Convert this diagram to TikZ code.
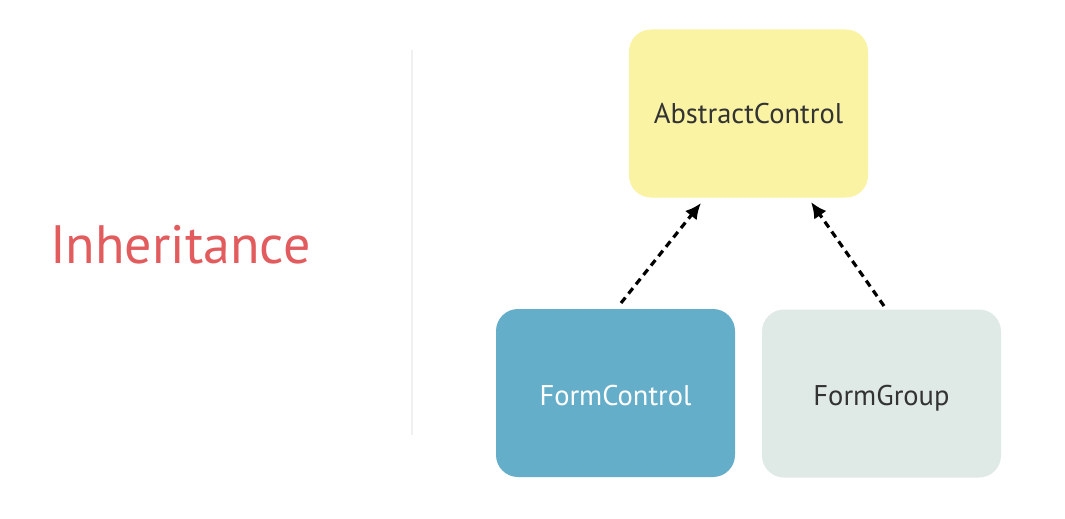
\documentclass[tikz,border=0pt]{standalone}
\usepackage{fontspec}
\setmainfont{PT Sans}
\usetikzlibrary{arrows.meta}
\definecolor{ayellow}{HTML}{F9F3A3}
\definecolor{fcblue}{HTML}{65AECA}
\definecolor{fggray}{HTML}{DFEAE6}
\definecolor{titlered}{HTML}{E25C5E}
\definecolor{divgray}{HTML}{F0F0F0}
\definecolor{txtdark}{HTML}{333333}
\begin{document}
\begin{tikzpicture}[x=1pt,y=-1pt,
  classbox/.style={rounded corners=22pt, minimum width=239pt, minimum height=168pt, inner sep=0pt, text depth=0pt, font=\fontsize{28.5}{32}\selectfont},
  inherit/.style={dashed, dash pattern=on 7pt off 5pt, line width=3.2pt, -{Latex[length=16pt,width=15pt]}}]
\useasboundingbox (0,0) rectangle (1065,519);
\fill[white] (0,0) rectangle (1065,519);
\node[anchor=base west, inner sep=0pt, text=titlered, font=\fontsize{54}{60}\selectfont] (title) at (50,263) {Inheritance};
\coordinate (dtop) at (412,50);
\coordinate (dbot) at (412,435);
\draw[divgray, line width=1.5pt] (dtop) -- (dbot);
\node[classbox, text height=19pt, fill=ayellow, text=txtdark] (ac) at (748.5,113.5) {AbstractControl};
\node[classbox, text height=24pt, fill=fcblue, text=white] (fc) at (615.5,393) {FormControl};
\node[classbox, text height=23pt, fill=fggray, text=txtdark] (fg) at (881.5,393.5) {FormGroup};
\coordinate (fcs) at (621,303);
\coordinate (fgs) at (884,306);
\coordinate (act1) at (701,203);
\coordinate (act2) at (811,202);
\draw[inherit] (fcs) -- (act1);
\draw[inherit] (fgs) -- (act2);
\end{tikzpicture}
\end{document}
